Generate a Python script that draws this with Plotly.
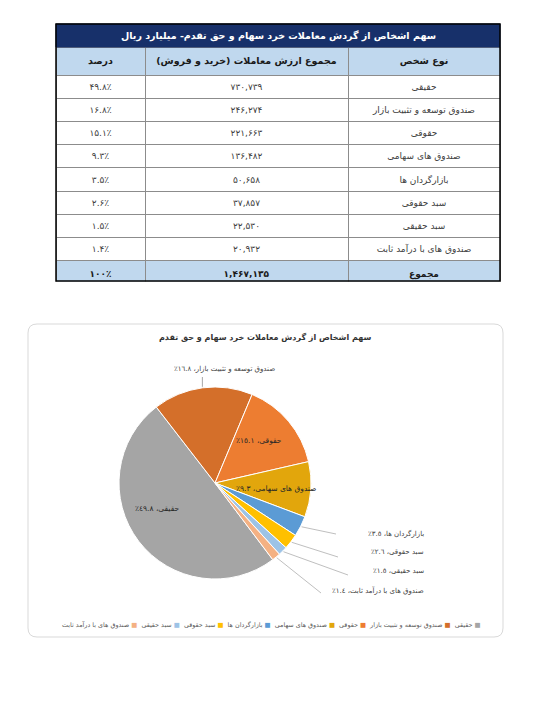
import math
import plotly.graph_objects as go

W, H = 551, 716

# ---------------- data ----------------
table_title = "سهم اشخاص از گردش معاملات خرد سهام و حق تقدم- میلیارد ریال"
col_headers = ["درصد", "مجموع ارزش معاملات (خرید و فروش)", "نوع شخص"]
categories = ["حقیقی", "صندوق توسعه و تثبیت بازار", "حقوقی", "صندوق های سهامی",
              "بازارگردان ها", "سبد حقوقی", "سبد حقیقی", "صندوق های با درآمد ثابت"]
values = [730739, 246274, 221663, 136482, 50658, 37857, 22530, 20932]
total_label = "مجموع"
chart_title = "سهم اشخاص از گردش معاملات خرد سهام و حق تقدم"
slice_colors = ["#A5A5A5", "#D46F2A", "#ED7D31", "#E2A60C",
                "#5B9BD5", "#FFC000", "#9DC3E6", "#F4B183"]

FA = str.maketrans("0123456789", "۰۱۲۳۴۵۶۷۸۹")
AR = str.maketrans("0123456789", "٠١٢٣٤٥٦٧٨٩")
RLE, PDF, LRM, NB = "\u202B", "\u202C", "\u200E", "\u00A0"


def fa(s):
    return str(s).translate(FA)


def ar(s):
    return str(s).translate(AR)


total_value = sum(values)
pcts = [v / total_value * 100 for v in values]


# --------------- helpers ---------------
def px(x):
    return x / W


def py(y):
    return 1 - y / H


fig = go.Figure()

# ---------------- table ----------------
TX0, TX1 = 56, 500
TY0, TTITLE, THEAD, TY1 = 24, 47, 72, 281
n_rows = len(categories) + 1
row_h = (TY1 - THEAD) / n_rows

pct_col = [fa(f"{p:.1f}") + "٪" for p in pcts] + ["<b>" + fa("100") + "٪</b>"]
val_col = [fa(f"{v:,}") for v in values] + ["<b>" + fa(f"{total_value:,}") + "</b>"]
cat_col = categories + ["<b>" + total_label + "</b>"]

light_blue = "#C0D8EE"
fills = ["white"] * len(categories) + [light_blue]
fcolors = ["#404040"] * len(categories) + ["#1a1a1a"]

fig.add_trace(go.Table(
    domain=dict(x=[px(TX0), px(TX1)], y=[py(TY1 + 3), py(TTITLE)]),
    columnwidth=[89, 203, 152],
    header=dict(values=["<b>" + h + "</b>" for h in col_headers],
                fill_color=light_blue,
                line=dict(color="#8C8C8C", width=1),
                font=dict(family="DejaVu Sans", size=9.5, color="#1a1a1a"),
                align="center", height=THEAD - TTITLE),
    cells=dict(values=[pct_col, val_col, cat_col],
               fill_color=[fills, fills, fills],
               line=dict(color="#8C8C8C", width=1),
               font=dict(family="DejaVu Sans", size=9, color=[fcolors] * 3),
               align="center", height=row_h),
))

shapes = []
annotations = []

# title bar
shapes.append(dict(type="rect", xref="paper", yref="paper",
                   x0=px(TX0), x1=px(TX1), y0=py(TTITLE), y1=py(TY0),
                   fillcolor="#17306A", line=dict(color="#17306A", width=1)))
annotations.append(dict(xref="paper", yref="paper", x=px((TX0 + TX1) / 2),
                        y=py((TY0 + TTITLE) / 2), text=table_title,
                        showarrow=False,
                        font=dict(family="DejaVu Sans", size=9.5, color="white", weight=700),
                        xanchor="center", yanchor="middle"))
# mask below the table and outer border
shapes.append(dict(type="rect", xref="paper", yref="paper",
                   x0=px(TX0 - 3), x1=px(TX1 + 3), y0=py(TY1 + 20), y1=py(TY1 + 0.5),
                   fillcolor="white", line=dict(width=0)))
shapes.append(dict(type="rect", xref="paper", yref="paper",
                   x0=px(TX0), x1=px(TX1), y0=py(TY1), y1=py(TY0),
                   line=dict(color="#000000", width=1.5), fillcolor="rgba(0,0,0,0)"))

# ---------------- chart box ----------------
BX0, BX1, BY0, BY1, BR = 28, 503, 324, 637, 9
path = (f"M {px(BX0 + BR)} {py(BY0)} L {px(BX1 - BR)} {py(BY0)} "
        f"Q {px(BX1)} {py(BY0)} {px(BX1)} {py(BY0 + BR)} "
        f"L {px(BX1)} {py(BY1 - BR)} Q {px(BX1)} {py(BY1)} {px(BX1 - BR)} {py(BY1)} "
        f"L {px(BX0 + BR)} {py(BY1)} Q {px(BX0)} {py(BY1)} {px(BX0)} {py(BY1 - BR)} "
        f"L {px(BX0)} {py(BY0 + BR)} Q {px(BX0)} {py(BY0)} {px(BX0 + BR)} {py(BY0)} Z")
shapes.append(dict(type="path", xref="paper", yref="paper", path=path,
                   line=dict(color="#D9D9D9", width=1), layer="below"))

annotations.append(dict(xref="paper", yref="paper", x=px(265), y=py(337),
                        text=chart_title, showarrow=False,
                        font=dict(family="DejaVu Sans", size=8, color="#333333", weight=700),
                        xanchor="center", yanchor="middle"))

# ---------------- pie ----------------
CX, CY, R = 215, 483, 96
ROT = 143
fig.add_trace(go.Pie(
    labels=categories, values=values, sort=False, direction="clockwise",
    rotation=ROT, marker=dict(colors=slice_colors, line=dict(color="white", width=1)),
    textinfo="none", hoverinfo="label+percent", showlegend=False,
    domain=dict(x=[px(CX - R), px(CX + R)], y=[py(CY + R), py(CY - R)]),
))

# slice mid-angles (clockwise from 12 o'clock)
mids = []
acc = 0.0
for v in values:
    a0 = ROT + acc / total_value * 360
    acc += v
    a1 = ROT + acc / total_value * 360
    mids.append(math.radians((a0 + a1) / 2))


def polar(ang, r):
    return CX + r * math.sin(ang), CY - r * math.cos(ang)


def label_text(i):
    return RLE + categories[i] + "، " + ar(f"{pcts[i]:.1f}") + "٪" + PDF


lab_font = dict(family="DejaVu Sans", size=7.5, color="#262626")
# inside labels (radius fraction, angle tweak in degrees)
inside = {0: (0.66, 14), 2: (0.64, -4), 3: (0.64, 1)}
for i, (rf, da) in inside.items():
    x, y = polar(mids[i] + math.radians(da), rf * R)
    annotations.append(dict(xref="paper", yref="paper", x=px(x), y=py(y),
                            text=label_text(i), showarrow=False, font=lab_font,
                            xanchor="center", yanchor="middle"))

# label above (second slice)
sx, sy = polar(mids[1], R + 1)
shapes.append(dict(type="line", xref="paper", yref="paper",
                   x0=px(sx), y0=py(sy), x1=px(sx), y1=py(377),
                   line=dict(color="#A6A6A6", width=1)))
annotations.append(dict(xref="paper", yref="paper", x=px(224), y=py(369),
                        text=label_text(1), showarrow=False,
                        font=dict(family="DejaVu Sans", size=7, color="#404040"),
                        xanchor="center", yanchor="middle"))

# small slices, labels on the right
label_ys = [533, 552, 571, 590]
line_ends = [(336, 534), (338, 557), (348, 575), (321, 593)]
for k, i in enumerate((4, 5, 6, 7)):
    sx, sy = polar(mids[i], R + 1)
    ex, ey = line_ends[k]
    shapes.append(dict(type="line", xref="paper", yref="paper",
                       x0=px(sx), y0=py(sy), x1=px(ex), y1=py(ey),
                       line=dict(color="#BFBFBF", width=1)))
    annotations.append(dict(xref="paper", yref="paper", x=px(426), y=py(label_ys[k]),
                            text=label_text(i), showarrow=False,
                            font=dict(family="DejaVu Sans", size=7, color="#404040"),
                            xanchor="right", yanchor="middle"))

# ---------------- legend (reads right to left) ----------------
parts = []
for i in reversed(range(len(categories))):
    parts.append(categories[i] + NB + f'<span style="color:{slice_colors[i]}">■</span>' + LRM)
legend_text = (NB * 2).join(parts)
annotations.append(dict(xref="paper", yref="paper", x=px(271), y=py(625),
                        text=legend_text, showarrow=False,
                        font=dict(family="DejaVu Sans", size=6.4, color="#595959"),
                        xanchor="center", yanchor="middle"))

fig.update_layout(
    width=W, height=H, margin=dict(l=0, r=0, t=0, b=0),
    paper_bgcolor="white", plot_bgcolor="white",
    font=dict(family="DejaVu Sans"),
    shapes=shapes, annotations=annotations,
)

fig.write_html("out.html", config={"displayModeBar": False},
               post_script="document.body.style.margin='0';")
